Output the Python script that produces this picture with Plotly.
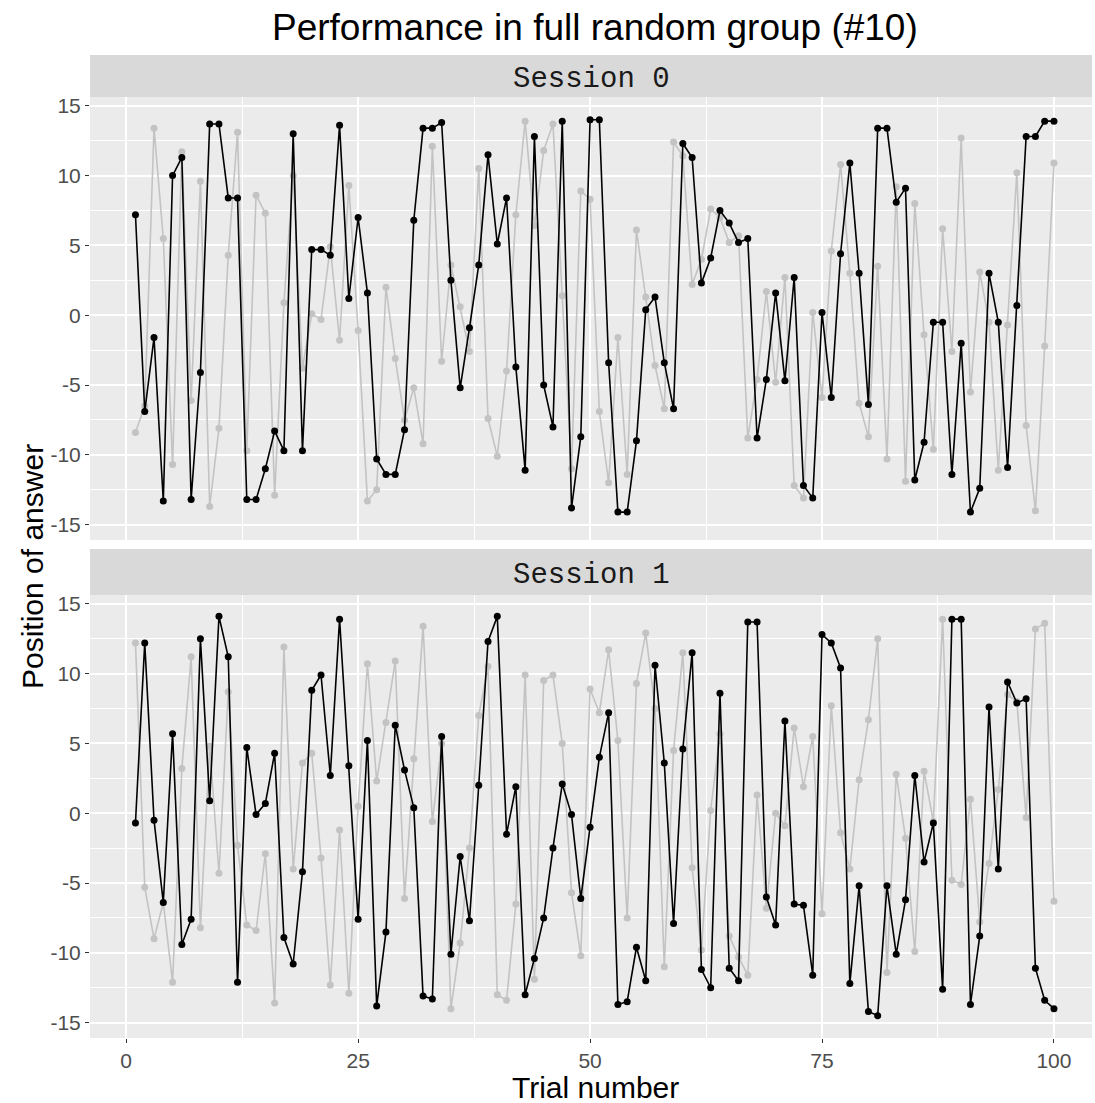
import plotly.graph_objects as go

# ---- data -------------------------------------------------------------
trials = list(range(1, 101))

# Session 0: participant answer (black) and comparison series (grey)
s0_answer = [
    7.2, -6.9, -1.6, -13.3, 10.0, 11.3, -13.2, -4.1, 13.7, 13.7,
    8.4, 8.4, -13.2, -13.2, -11.0, -8.3, -9.7, 13.0, -9.7, 4.7,
    4.7, 4.3, 13.6, 1.2, 7.0, 1.6, -10.3, -11.4, -11.4, -8.2,
    6.8, 13.4, 13.4, 13.8, 2.5, -5.2, -0.9, 3.6, 11.5, 5.1,
    8.4, -3.7, -11.1, 12.8, -5.0, -8.0, 13.9, -13.8, -8.7, 14.0,
    14.0, -3.4, -14.1, -14.1, -9.0, 0.4, 1.3, -3.4, -6.7, 12.3,
    11.3, 2.3, 4.1, 7.5, 6.6, 5.2, 5.5, -8.8, -4.6, 1.6,
    -4.7, 2.7, -12.2, -13.1, 0.2, -5.9, 4.4, 10.9, 3.0, -6.4,
    13.4, 13.4, 8.1, 9.1, -11.8, -9.1, -0.5, -0.5, -11.4, -2.0,
    -14.1, -12.4, 3.0, -0.5, -10.9, 0.7, 12.8, 12.8, 13.9, 13.9,
]
s0_other = [
    -8.4, -6.5, 13.4, 5.5, -10.7, 11.7, -6.1, 9.6, -13.7, -8.1,
    4.3, 13.1, -9.7, 8.6, 7.3, -12.9, 0.9, 10.0, -3.8, 0.1,
    -0.3, 4.9, -1.8, 9.3, -1.1, -13.3, -12.5, 2.0, -3.1, -7.5,
    -5.2, -9.2, 12.1, -3.3, 3.6, 0.6, -2.6, 10.5, -7.4, -10.1,
    -4.0, 7.2, 13.9, 6.4, 11.8, 13.7, 1.4, -11.0, 8.9, 8.3,
    -6.9, -12.0, -1.6, -11.4, 6.1, 1.3, -3.6, -6.7, 12.4, 11.4,
    2.2, 4.0, 7.6, 7.0, 5.2, 5.7, -8.8, -4.6, 1.7, -4.8,
    2.7, -12.2, -13.1, 0.2, -5.9, 4.6, 10.8, 3.0, -6.3, -8.7,
    3.5, -10.3, 9.2, -11.9, 8.0, -1.4, -9.6, 6.2, -2.6, 12.7,
    -5.5, 3.1, -0.5, -11.1, -0.7, 10.2, -7.9, -14.0, -2.2, 10.9,
]

# Session 1
s1_answer = [
    -0.7, 12.2, -0.5, -6.4, 5.7, -9.4, -7.6, 12.5, 0.9, 14.1,
    11.2, -12.1, 4.7, -0.1, 0.7, 4.3, -8.9, -10.8, -4.2, 8.8,
    9.9, 2.7, 13.9, 3.4, -7.6, 5.2, -13.8, -8.5, 6.3, 3.1,
    0.4, -13.1, -13.3, 5.5, -10.1, -3.1, -7.7, 2.0, 12.3, 14.1,
    -1.5, 1.9, -13.0, -10.4, -7.5, -2.5, 2.1, -0.1, -6.1, -1.0,
    4.0, 7.2, -13.7, -13.5, -9.6, -12.0, 10.6, 3.6, -7.9, 4.6,
    11.5, -11.2, -12.5, 8.6, -11.1, -12.0, 13.7, 13.7, -6.0, -8.0,
    6.6, -6.5, -6.6, -11.6, 12.8, 12.2, 10.4, -12.2, -5.2, -14.2,
    -14.5, -5.2, -10.1, -6.2, 2.7, -3.5, -0.7, -12.6, 13.9, 13.9,
    -13.7, -8.8, 7.6, -4.0, 9.4, 7.9, 8.2, -11.1, -13.4, -14.0,
]
s1_other = [
    12.2, -5.3, -9.0, -6.4, -12.1, 3.2, 11.2, -8.2, 4.8, -4.3,
    8.7, -2.3, -8.0, -8.4, -2.9, -13.6, 11.9, -4.0, 3.6, 4.3,
    -3.2, -12.3, -1.2, -12.9, 0.5, 10.7, 2.3, 6.5, 10.9, -6.1,
    3.9, 13.4, -0.6, 5.0, -14.0, -9.3, -2.5, 7.0, 10.5, -13.0,
    -13.4, -6.5, 9.9, -11.9, 9.5, 9.9, 5.0, -5.7, -10.2, 8.9,
    7.2, 11.7, 5.2, -7.5, 9.3, 12.9, 7.5, -11.0, 4.5, 11.5,
    -3.9, -9.8, 0.2, 5.7, -8.8, -10.3, -11.6, 1.3, -6.8, 0.0,
    -0.9, 6.1, 1.9, 5.5, -7.2, 7.7, -1.4, -4.0, 2.4, 6.7,
    12.5, -11.4, 2.8, -1.8, -9.9, 3.0, -0.6, 13.9, -4.8, -5.1,
    1.0, -7.8, -3.6, 1.7, 8.5, 8.0, -0.3, 13.2, 13.6, -6.3,
]

y_ticks = [-15, -10, -5, 0, 5, 10, 15]
y_tick_labels = ["-15", "-10", "-5", "0", "5", "10", "15"]
x_ticks = [0, 25, 50, 75, 100]
panel_titles = ["Session 0", "Session 1"]

# ---- layout geometry (pixels) ------------------------------------------
W, H = 1095, 1103
ML, MR, MT, MB = 90, 3, 97, 65
PH = H - MT - MB


def fy(px):
    """pixel row -> paper fraction"""
    return (H - MB - px) / PH


def fx(px):
    return (px - ML) / (W - ML - MR)


top_dom = [fy(540), 1.0]
bot_dom = [0.0, fy(595)]

GREY = "#C3C3C3"
BLACK = "#000000"
FONT = "Liberation Sans"
TICK_FONT = dict(family=FONT, size=21, color="#4D4D4D")

fig = go.Figure()


def add_session(other, answer, xa, ya):
    fig.add_trace(go.Scatter(
        x=trials, y=other, mode="lines+markers", xaxis=xa, yaxis=ya,
        line=dict(color=GREY, width=1.6), marker=dict(color=GREY, size=7),
        showlegend=False, hoverinfo="skip"))
    fig.add_trace(go.Scatter(
        x=trials, y=answer, mode="lines+markers", xaxis=xa, yaxis=ya,
        line=dict(color=BLACK, width=1.6), marker=dict(color=BLACK, size=7),
        showlegend=False, hoverinfo="skip"))


add_session(s0_other, s0_answer, "x2", "y2")
add_session(s1_other, s1_answer, "x", "y")

xr = [-3.9, 104.1]
yr = [-16.1, 15.63]

common_x = dict(
    range=xr, tickvals=x_ticks, showgrid=True, gridcolor="white", gridwidth=2,
    minor=dict(dtick=12.5, tick0=0, showgrid=True, gridcolor="white", gridwidth=1),
    zeroline=False, showline=False, domain=[0, 1],
)
common_y = dict(
    range=yr, tickvals=y_ticks, ticktext=y_tick_labels,
    showgrid=True, gridcolor="white", gridwidth=2,
    minor=dict(dtick=2.5, tick0=0, showgrid=True, gridcolor="white", gridwidth=1),
    zeroline=False, showline=False, ticks="outside", ticklen=4,
    tickcolor="#333333", tickwidth=1, tickfont=TICK_FONT,
)

fig.update_layout(
    width=W, height=H,
    margin=dict(l=ML, r=MR, t=MT, b=MB),
    paper_bgcolor="white", plot_bgcolor="#EBEBEB",
    font=dict(family=FONT),
    xaxis=dict(**common_x, anchor="y", ticks="outside", ticklen=4,
               tickcolor="#333333", tickwidth=1, tickfont=TICK_FONT),
    xaxis2=dict(**common_x, anchor="y2", showticklabels=False, ticks="",
                matches="x"),
    yaxis=dict(**common_y, domain=bot_dom, anchor="x"),
    yaxis2=dict(**common_y, domain=top_dom, anchor="x2"),
)

# facet strips
strips = [(55, 97), (549, 595)]
annotations = []
shapes = []
for (top_px, bot_px), label in zip(strips, panel_titles):
    shapes.append(dict(type="rect", xref="paper", yref="paper",
                       x0=0, x1=1, y0=fy(bot_px), y1=fy(top_px),
                       fillcolor="#D9D9D9", line=dict(width=0), layer="below"))
    annotations.append(dict(text=label, xref="paper", yref="paper",
                            x=0.5, y=fy((top_px + bot_px) / 2 + 3),
                            showarrow=False, xanchor="center", yanchor="middle",
                            font=dict(family="Liberation Mono", size=29,
                                      color="#1A1A1A")))

# titles
annotations.append(dict(text="Performance in full random group (#10)",
                        xref="paper", yref="paper", x=fx(595), y=fy(27),
                        showarrow=False, xanchor="center", yanchor="middle",
                        font=dict(family=FONT, size=37, color="black")))
annotations.append(dict(text="Trial number", xref="paper", yref="paper",
                        x=fx(595), y=fy(1087), showarrow=False,
                        xanchor="center", yanchor="middle",
                        font=dict(family=FONT, size=30, color="black")))
annotations.append(dict(text="Position of answer", xref="paper", yref="paper",
                        x=fx(32), y=fy(567), showarrow=False, textangle=-90,
                        xanchor="center", yanchor="middle",
                        font=dict(family=FONT, size=30, color="black")))

fig.update_layout(shapes=shapes, annotations=annotations)

fig.write_html("out.html")
